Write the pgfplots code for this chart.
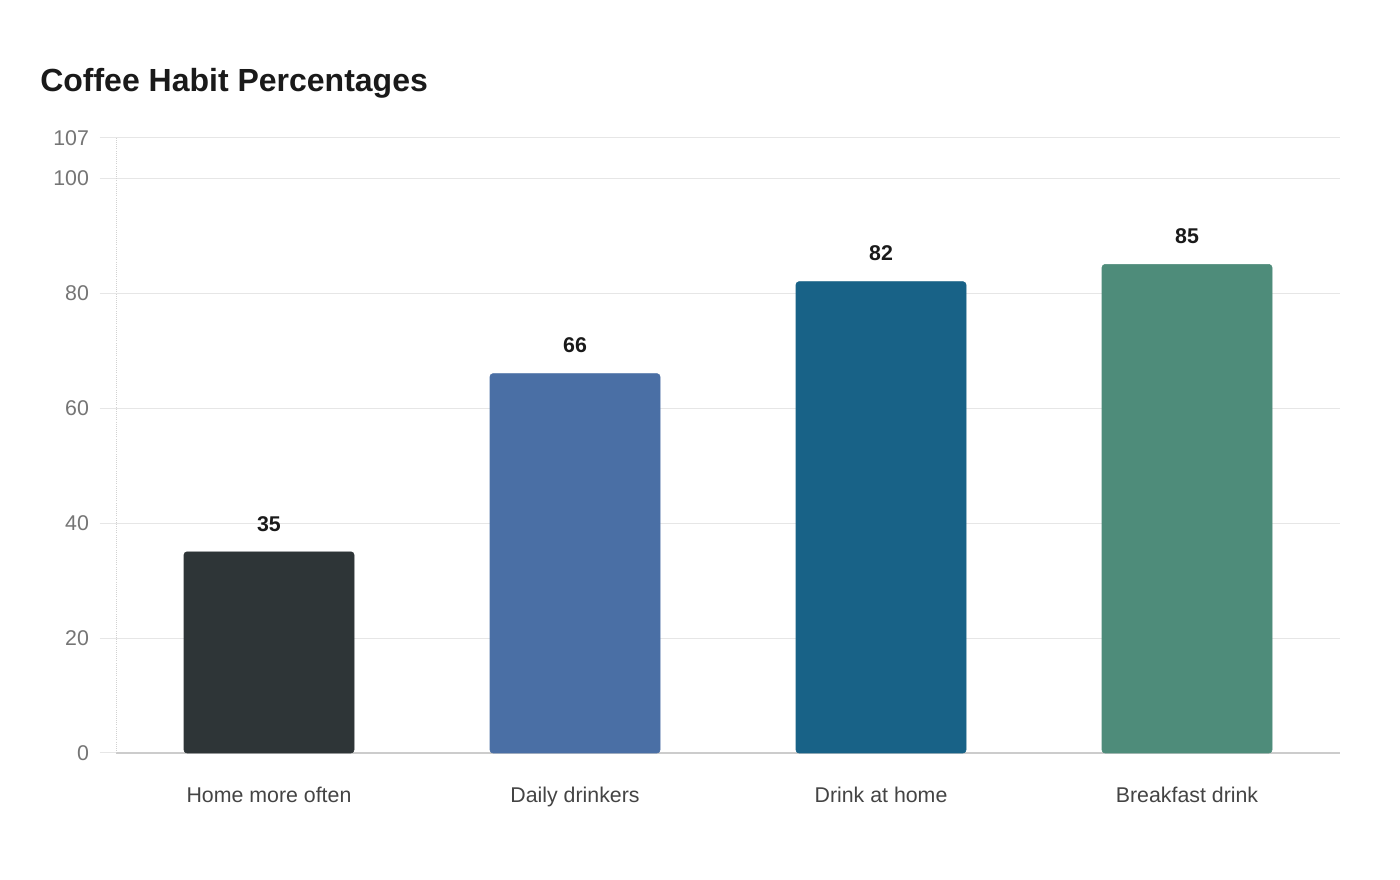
\documentclass[border=0pt]{standalone}
\usepackage{fontspec}
\setmainfont{Liberation Sans}
\usepackage{pgfplots}
\pgfplotsset{compat=1.18}
\definecolor{cA}{HTML}{2E3537}
\definecolor{cB}{HTML}{4A6FA5}
\definecolor{cC}{HTML}{186287}
\definecolor{cD}{HTML}{4E8C7A}
\definecolor{gridc}{HTML}{E6E6E6}
\definecolor{tickc}{HTML}{757575}
\definecolor{catc}{HTML}{444444}
\definecolor{titc}{HTML}{1A1A1A}
\begin{document}
\begin{tikzpicture}
\path[use as bounding box, fill=white] (0,0) rectangle (1050pt,660pt);
\node[anchor=west, font=\fontsize{24}{28}\selectfont\bfseries, text=titc, inner sep=0pt] at (30pt,597.75pt) {Coffee Habit Percentages};
\begin{axis}[
  at={(87pt,95.25pt)}, anchor=south west,
  scale only axis, width=918pt, height=461.25pt,
  xmin=-0.5, xmax=3.5, ymin=0, ymax=107,
  ybar, bar width=127.5pt, bar shift=0pt,
  axis x line*=bottom, axis y line*=left,
  x axis line style={draw=black!20, line width=1.1pt, -},
  y axis line style={draw=black!18, densely dotted, line width=0.6pt, -},
  xtick={0,1,2,3},
  xticklabels={Home more often, Daily drinkers, Drink at home, Breakfast drink},
  xtick style={draw=none},
  ytick={0,20,40,60,80,100,107},
  ytick style={draw=gridc, line width=0.75pt},
  tick align=outside, major tick length=12pt,
  ymajorgrids, grid style={draw=gridc, line width=0.75pt},
  /pgf/number format/assume math mode=true,
  yticklabel style={font=\fontsize{16}{19}\selectfont, text=tickc, anchor=base east, yshift=-5.8pt, xshift=-4.8pt},
  xticklabel style={font=\fontsize{16}{19}\selectfont, text=catc, anchor=base, yshift=-25.5pt},
  nodes near coords,
  nodes near coords style={font=\fontsize{16}{19}\selectfont\bfseries, text=titc, anchor=base, yshift=15.6pt},
  clip=false,
]
\addplot[fill=cA, draw=cA, rounded corners=2.25pt] coordinates {(0,35)};
\addplot[fill=cB, draw=cB, rounded corners=2.25pt] coordinates {(1,66)};
\addplot[fill=cC, draw=cC, rounded corners=2.25pt] coordinates {(2,82)};
\addplot[fill=cD, draw=cD, rounded corners=2.25pt] coordinates {(3,85)};
\end{axis}
\end{tikzpicture}
\end{document}
